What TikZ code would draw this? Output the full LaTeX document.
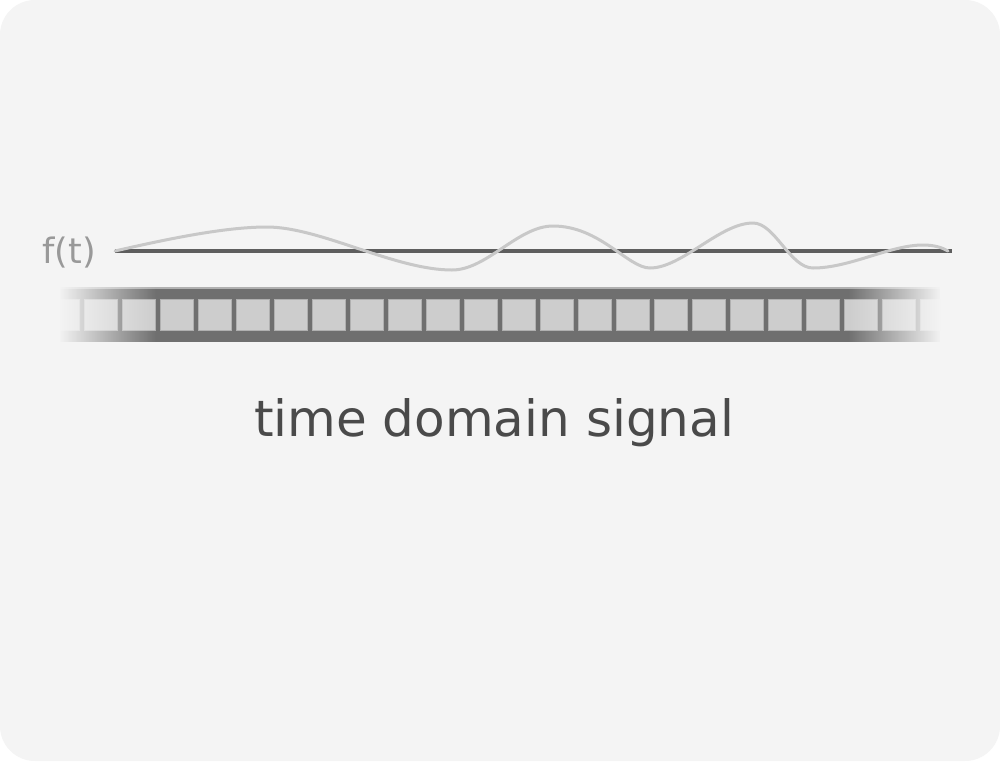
\documentclass[tikz,border=0pt]{standalone}
\usepackage{fontspec}
\setmainfont{DejaVu Sans}
\usetikzlibrary{fadings}
\definecolor{bgc}{HTML}{F4F4F4}
\definecolor{bandc}{HTML}{6F6F6F}
\definecolor{cellc}{HTML}{CDCDCD}
\definecolor{cellb}{HTML}{B0B0B0}
\definecolor{axisc}{HTML}{5E5E5E}
\definecolor{wavec}{HTML}{C8C8C8}
\definecolor{titlec}{HTML}{4A4A4A}
\definecolor{labc}{HTML}{999999}
\tikzfading[name=fadeleft, left color=transparent!0, right color=transparent!100]
\tikzfading[name=faderight, left color=transparent!100, right color=transparent!0]
\tikzset{
  cell/.style={fill=cellc, draw=cellb, line width=1pt},
  axisline/.style={draw=axisc, line width=3.2pt},
  waveline/.style={draw=wavec, line width=3pt, line cap=round},
  titletext/.style={text=titlec, font=\fontsize{50}{60}\selectfont, inner sep=0pt, anchor=base},
  labtext/.style={text=labc, font=\fontsize{35}{42}\selectfont, inner sep=0pt, anchor=base}
}
\begin{document}
\begin{tikzpicture}[x=1pt,y=-1pt]
\useasboundingbox (0,0) rectangle (1000,761);
\fill[white] (0,0) rectangle (1000,761);
\fill[bgc, rounded corners=35pt] (0,0) rectangle (1000,761);
% film strip
\begin{scope}
\clip (60,287) rectangle (940,342);
\fill[bandc] (60,287) rectangle (940,342);
\draw[draw=cellb, line width=1.5pt] (60,287.75) -- (940,287.75);
\foreach \k in {0,...,23} {
  \path[cell] ({46+38*\k},299) rectangle ({79+38*\k},330);
}
\end{scope}
\fill[bgc, path fading=fadeleft] (59,285) rectangle (156,344);
\fill[bgc, path fading=faderight] (848,285) rectangle (941,344);
% axis and wave
\coordinate (a0) at (115,251);
\coordinate (a1) at (952,251);
\draw[axisline] (a0) -- (a1);
\draw[waveline] (a0) .. controls (180,236) and (230,227) .. (267,227)
  .. controls (320,227) and (395,270) .. (452,270)
  .. controls (487,270) and (518,226) .. (553,226)
  .. controls (600,226) and (628,268) .. (650,268)
  .. controls (682,268) and (720,223) .. (753,223)
  .. controls (775,223) and (790,268) .. (813,268)
  .. controls (850,268) and (890,245) .. (923,245)
  .. controls (935,245) and (943,248) .. (948,251);
\node[labtext] (flab) at (69,263) {f(t)};
\node[titletext] (title) at (494,436) {time domain signal};
\end{tikzpicture}
\end{document}
